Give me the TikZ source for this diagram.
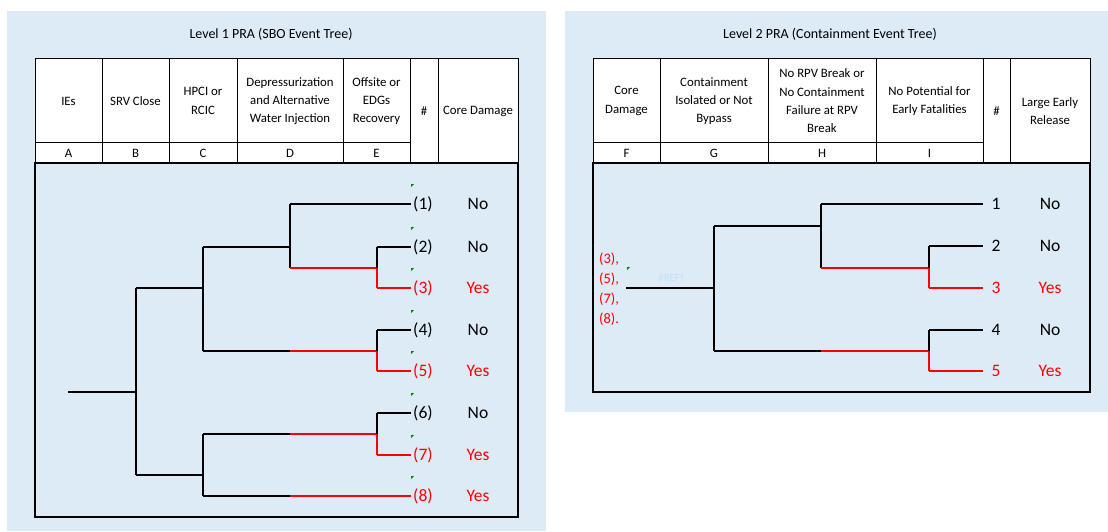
\documentclass[tikz,border=0pt]{standalone}
\usepackage{fontspec}
\setmainfont{Carlito}
\definecolor{bgblue}{RGB}{221,235,247}
\definecolor{refblue}{RGB}{196,222,245}
\definecolor{cgreen}{RGB}{0,130,0}
\definecolor{tred}{RGB}{255,0,0}
\begin{document}
\begin{tikzpicture}[x=1pt,y=-1pt,
  gridline/.style={draw=black, line width=1pt},
  hdr/.style={align=center, font=\fontsize{12.8}{18.3}\selectfont, inner sep=0pt},
  titletext/.style={font=\fontsize{14}{17}\selectfont, inner sep=0pt},
  lbl/.style={font=\fontsize{17.5}{20}\selectfont, inner sep=0pt},
  blk/.style={line width=1.8pt, black},
  redl/.style={line width=1.8pt, tred},
  cmark/.style={fill=cgreen, draw=none}
]
\useasboundingbox (0,0) rectangle (1108,531);
\fill[white] (0,0) rectangle (1108,531);
% panel backgrounds
\fill[bgblue] (7,11) rectangle (546,531);
\fill[bgblue] (565,11) rectangle (1108,412);

% ---------- Left panel ----------
\node[titletext] (t1) at (271,34) {Level 1 PRA (SBO Event Tree)};
\fill[white] (35,58) rectangle (518,163);
\draw[gridline] (35,58) rectangle (518,163);
\draw[gridline] (35,142) -- (410,142);
\foreach \x in {102,169,237,343,410,438} \draw[gridline] (\x,58) -- (\x,163);
\draw[line width=1.2pt] (35,163) rectangle (518,517);
\node[hdr] (h1) at (68.5,101) {IEs};
\node[hdr] (h2) at (135.5,101) {SRV Close};
\node[hdr] (h3) at (203,101) {HPCI or\\RCIC};
\node[hdr] (h4) at (290,101) {Depressurization\\and Alternative\\Water Injection};
\node[hdr] (h5) at (376.5,101) {Offsite or\\EDGs\\Recovery};
\node[hdr] (h6) at (424,111) {\#};
\node[hdr] (h7) at (478,111) {Core Damage};
\node[hdr] (l1) at (68.5,153) {A};
\node[hdr] (l2) at (135.5,153) {B};
\node[hdr] (l3) at (203,153) {C};
\node[hdr] (l4) at (290,153) {D};
\node[hdr] (l5) at (376.5,153) {E};

% left tree coordinates
\coordinate (a0) at (68,392);
\coordinate (a1) at (136,392);
\coordinate (a1u) at (136,288);
\coordinate (a1d) at (136,475);
\coordinate (b1) at (203,288);
\coordinate (b1u) at (203,247);
\coordinate (b1d) at (203,351);
\coordinate (b2) at (203,475);
\coordinate (b2u) at (203,434);
\coordinate (b2d) at (203,496);
\coordinate (c1u) at (290,204);
\coordinate (c1) at (290,247);
\coordinate (c1d) at (290,268);
\coordinate (c2) at (290,351);
\coordinate (c3) at (290,434);
\coordinate (c4) at (290,496);
\coordinate (d1u) at (377,247);
\coordinate (d1) at (377,268);
\coordinate (d1d) at (377,288);
\coordinate (d2u) at (377,330);
\coordinate (d2) at (377,351);
\coordinate (d2d) at (377,371);
\coordinate (d3u) at (377,413);
\coordinate (d3) at (377,434);
\coordinate (d3d) at (377,455);
\foreach \n/\y/\c/\r in {1/204/black/No,2/247/black/No,3/288/tred/Yes,4/330/black/No,5/371/tred/Yes,6/413/black/No,7/455/tred/Yes,8/496/tred/Yes}{
  \coordinate (e\n) at (411,\y);
  \node[lbl, text=\c, anchor=west] (n\n) at (413,\y) {(\n)};
  \node[lbl, text=\c] (r\n) at (478,\y) {\r};
  \fill[cmark] (411,\y-20) -- (414,\y-20) -- (411,\y-17) -- cycle;
}
\draw[blk] (a0) -- (a1);
\draw[blk] (a1u) -- (a1d);
\draw[blk] (a1u) -- (b1);
\draw[blk] (a1d) -- (b2);
\draw[blk] (b1u) -- (b1d);
\draw[blk] (b2u) -- (b2d);
\draw[blk] (b1u) -- (c1);
\draw[blk] (c1u) -- (c1d);
\draw[blk] (c1u) -- (e1);
\draw[redl] (c1d) -- (d1);
\draw[blk] (d1u) -- (d1);
\draw[redl] (d1) -- (d1d);
\draw[blk] (d1u) -- (e2);
\draw[redl] (d1d) -- (e3);
\draw[blk] (b1d) -- (c2);
\draw[redl] (c2) -- (d2);
\draw[blk] (d2u) -- (d2);
\draw[redl] (d2) -- (d2d);
\draw[blk] (d2u) -- (e4);
\draw[redl] (d2d) -- (e5);
\draw[blk] (b2u) -- (c3);
\draw[redl] (c3) -- (d3);
\draw[blk] (d3u) -- (d3);
\draw[redl] (d3) -- (d3d);
\draw[blk] (d3u) -- (e6);
\draw[redl] (d3d) -- (e7);
\draw[blk] (b2d) -- (c4);
\draw[redl] (c4) -- (e8);

% ---------- Right panel ----------
\node[titletext] (t2) at (830,34) {Level 2 PRA (Containment Event Tree)};
\fill[white] (593,58) rectangle (1090,163);
\draw[gridline] (593,58) rectangle (1090,163);
\draw[gridline] (593,142) -- (983,142);
\foreach \x in {660,768,876,983,1010} \draw[gridline] (\x,58) -- (\x,163);
\draw[line width=1.2pt] (593,163) rectangle (1090,392);
\node[hdr] (g1) at (626.5,101) {Core\\Damage};
\node[hdr] (g2) at (714,101) {Containment\\Isolated or Not\\Bypass};
\node[hdr] (g3) at (822,101) {No RPV Break or\\No Containment\\Failure at RPV\\Break};
\node[hdr] (g4) at (929.5,101) {No Potential for\\Early Fatalities};
\node[hdr] (g5) at (996.5,111) {\#};
\node[hdr] (g6) at (1050,111) {Large Early\\Release};
\node[hdr] (m1) at (626.5,153) {F};
\node[hdr] (m2) at (714,153) {G};
\node[hdr] (m3) at (822,153) {H};
\node[hdr] (m4) at (929.5,153) {I};

\node[font=\fontsize{14.5}{20}\selectfont, text=tred, align=left, anchor=west, inner sep=0pt] (src) at (599,289) {(3),\\(5),\\(7),\\(8).};
\fill[cmark] (627,267) -- (630,267) -- (627,270) -- cycle;
\node[font=\fontsize{11}{13}\selectfont, text=refblue, inner sep=0pt] (ref) at (671,278) {\#REF!};

\coordinate (p0) at (626,288);
\coordinate (p1) at (714,288);
\coordinate (p1u) at (714,226);
\coordinate (p1d) at (714,351);
\coordinate (q1u) at (821,204);
\coordinate (q1) at (821,226);
\coordinate (q1d) at (821,268);
\coordinate (q2) at (821,351);
\coordinate (s1u) at (929,246);
\coordinate (s1) at (929,268);
\coordinate (s1d) at (929,288);
\coordinate (s2u) at (929,330);
\coordinate (s2) at (929,351);
\coordinate (s2d) at (929,371);
\foreach \n/\y/\c/\r in {1/204/black/No,2/246/black/No,3/288/tred/Yes,4/330/black/No,5/371/tred/Yes}{
  \coordinate (f\n) at (983,\y);
  \node[lbl, text=\c] (k\n) at (996,\y) {\n};
  \node[lbl, text=\c] (o\n) at (1050,\y) {\r};
}
\draw[blk] (p0) -- (p1);
\draw[blk] (p1u) -- (p1d);
\draw[blk] (p1u) -- (q1);
\draw[blk] (q1u) -- (q1d);
\draw[blk] (q1u) -- (f1);
\draw[redl] (q1d) -- (s1);
\draw[blk] (s1u) -- (s1);
\draw[redl] (s1) -- (s1d);
\draw[blk] (s1u) -- (f2);
\draw[redl] (s1d) -- (f3);
\draw[blk] (p1d) -- (q2);
\draw[redl] (q2) -- (s2);
\draw[blk] (s2u) -- (s2);
\draw[redl] (s2) -- (s2d);
\draw[blk] (s2u) -- (f4);
\draw[redl] (s2d) -- (f5);
\end{tikzpicture}
\end{document}
